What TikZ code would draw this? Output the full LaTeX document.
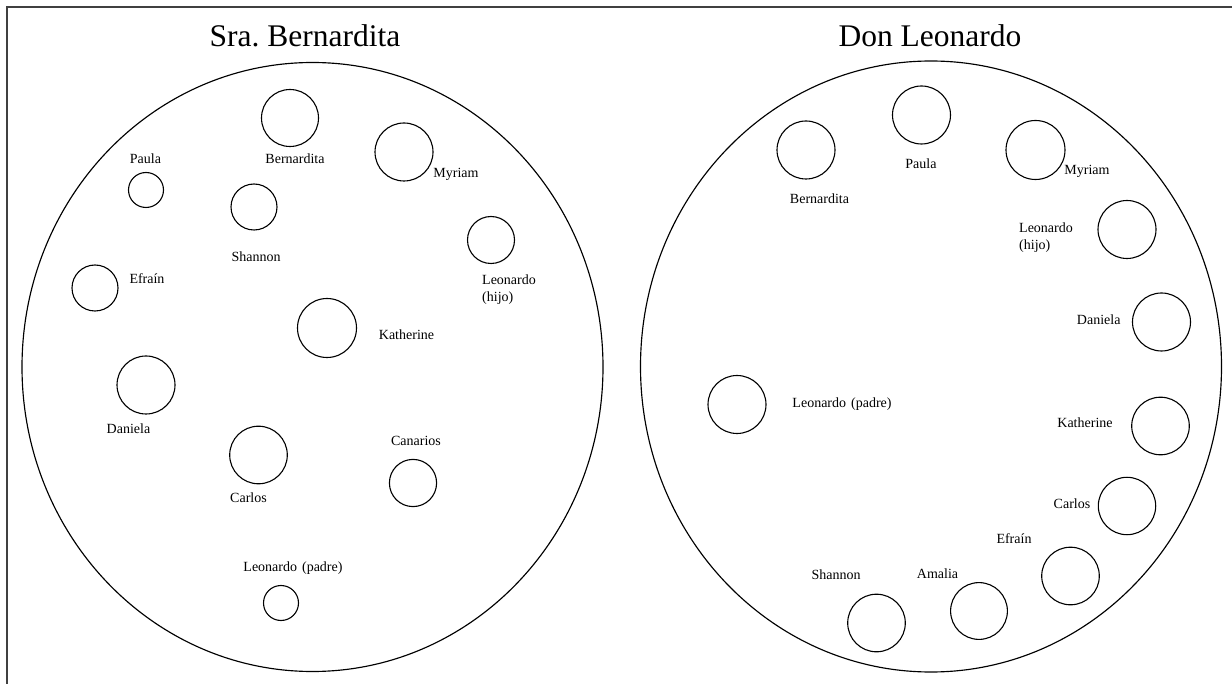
\documentclass[tikz,border=0pt]{standalone}
\usepackage{fontspec}
\setmainfont{Liberation Serif}
\usetikzlibrary{shapes.geometric}
\frenchspacing
\tikzset{
  table/.style={draw=black, line width=1.15pt, shape=ellipse, inner sep=0pt,
                minimum width=581pt, minimum height=609pt},
  seat/.style={draw=black, line width=1.1pt, shape=circle, inner sep=0pt},
  lbl/.style={inner sep=0pt, font=\fontsize{14}{17}\selectfont,
              text height=9.3pt, text depth=0pt},
  lbltwo/.style={inner sep=0pt, font=\fontsize{14}{17}\selectfont,
                 align=left, anchor=north west},
  ttl/.style={inner sep=0pt, font=\fontsize{31.5}{36}\selectfont, anchor=base},
  frameline/.style={draw=black!75, line width=1.4pt}
}
\begin{document}
\begin{tikzpicture}[x=1pt, y=-1pt]
\useasboundingbox (0,0) rectangle (1232,684);
% frame
\coordinate (fTR) at (1232,7);
\coordinate (fTL) at (7,7);
\coordinate (fBL) at (7,684);
\draw[frameline] (fTR) -- (fTL) -- (fBL);

% titles
\node[ttl] (t1) at (305,47) {Sra. Bernardita};
\node[ttl] (t2) at (930,47) {Don Leonardo};

% tables
\node[table] (tabL) at (312.5,367) {};
\node[table, minimum height=611pt] (tabR) at (931,366.5) {};

% ---- left: Sra. Bernardita
\node[seat, minimum size=57pt] (LBer) at (290,118) {};
\node[seat, minimum size=58pt] (LMyr) at (404,152) {};
\node[seat, minimum size=35pt] (LPau) at (146,190) {};
\node[seat, minimum size=46pt] (LSha) at (254,207) {};
\node[seat, minimum size=47pt] (LLeh) at (491,240) {};
\node[seat, minimum size=46pt] (LEfr) at (95,288) {};
\node[seat, minimum size=59pt] (LKat) at (327,328) {};
\node[seat, minimum size=58pt] (LDan) at (146,385) {};
\node[seat, minimum size=57.6pt] (LCar) at (258.5,455) {};
\node[seat, minimum size=47.2pt] (LCan) at (413,483) {};
\node[seat, minimum size=35pt] (LLep) at (281,603) {};

\node[lbl] (lLBer) at (295,159) {Bernardita};
\node[lbl] (lLMyr) at (456,173) {Myriam};
\node[lbl] (lLPau) at (145.5,159) {Paula};
\node[lbl] (lLSha) at (256,257) {Shannon};
\node[lbltwo] (lLLeh) at (482,275) {Leonardo\\(hijo)};
\node[lbl] (lLEfr) at (147,279) {Efraín};
\node[lbl] (lLKat) at (406.5,335) {Katherine};
\node[lbl] (lLDan) at (128.5,429) {Daniela};
\node[lbl] (lLCar) at (248.5,497.5) {Carlos};
\node[lbl] (lLCan) at (416,441) {Canarios};
\node[lbl] (lLLep) at (293,567) {Leonardo\hspace{5pt}(padre)};

% ---- right: Don Leonardo
\node[seat, minimum size=58pt] (RBer) at (806,150) {};
\node[seat, minimum size=58pt] (RPau) at (921.5,115) {};
\node[seat, minimum size=59pt] (RMyr) at (1035.5,150) {};
\node[seat, minimum size=58pt] (RLeh) at (1127,229.5) {};
\node[seat, minimum size=58pt] (RDan) at (1161.5,322) {};
\node[seat, minimum size=58pt] (RLep) at (737,404.5) {};
\node[seat, minimum size=57.6pt] (RKat) at (1160.5,426) {};
\node[seat, minimum size=57.4pt] (RCar) at (1127,506) {};
\node[seat, minimum size=57.6pt] (REfr) at (1070.5,576) {};
\node[seat, minimum size=56.8pt] (RAma) at (979,611) {};
\node[seat, minimum size=57.6pt] (RSha) at (876.5,623) {};

\node[lbl] (lRBer) at (819.5,199) {Bernardita};
\node[lbl] (lRPau) at (921,164) {Paula};
\node[lbl] (lRMyr) at (1087,170) {Myriam};
\node[lbltwo] (lRLeh) at (1019,222.5) {Leonardo\\(hijo)};
\node[lbl] (lRDan) at (1098.7,320) {Daniela};
\node[lbl] (lRLep) at (842,403) {Leonardo\hspace{5pt}(padre)};
\node[lbl] (lRKat) at (1085,423) {Katherine};
\node[lbl] (lRCar) at (1072,504) {Carlos};
\node[lbl] (lREfr) at (1014,539) {Efraín};
\node[lbl] (lRAma) at (937.5,574) {Amalia};
\node[lbl] (lRSha) at (836,574.5) {Shannon};
\end{tikzpicture}
\end{document}
